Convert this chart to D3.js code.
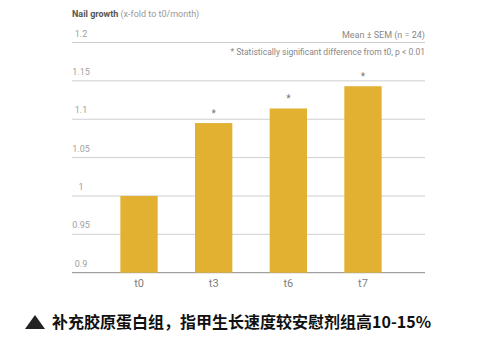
<!DOCTYPE html>
<html>
<head>
<meta charset="utf-8">
<script src="https://cdn.jsdelivr.net/npm/d3@7"></script>
<style>
  body { margin: 0; background: #fff; }
  svg { display: block; }
</style>
</head>
<body>
<div id="chart"></div>
<script>
const categories = ["t0", "t3", "t6", "t7"];
const values = [1.0, 1.095, 1.114, 1.143];
const significant = [false, true, true, true];
const yTicks = [0.9, 0.95, 1, 1.05, 1.1, 1.15, 1.2];

const W = 500, H = 353;
const left = 72, right = 425;

const svg = d3.select("#chart").append("svg")
    .attr("width", W)
    .attr("height", H);

const y = d3.scaleLinear()
    .domain([0.9, 1.2])
    .range([272.7, 42.5]);

const x = d3.scaleBand()
    .domain(categories)
    .range([101.7, 400.3])
    .paddingInner(0.5)
    .paddingOuter(0.25);

const font = "Roboto, 'Open Sans', sans-serif";

// gridlines
svg.append("g")
    .selectAll("line")
    .data(yTicks)
    .enter()
    .append("line")
    .attr("x1", left)
    .attr("x2", right)
    .attr("y1", d => y(d))
    .attr("y2", d => y(d))
    .attr("stroke", d => d === 0.9 ? "#8a8a8a" : "#cfcfcf")
    .attr("stroke-width", 1);

// tick labels
svg.append("g")
    .selectAll("text")
    .data(yTicks)
    .enter()
    .append("text")
    .attr("x", 81)
    .attr("y", d => y(d) - 6)
    .attr("text-anchor", "middle")
    .attr("font-family", font)
    .attr("font-size", "9px")
    .attr("fill", "#a0a0a0")
    .text(d => d3.format("")(d));

// bars
svg.selectAll(".bar")
    .data(categories)
    .enter()
    .append("rect")
    .attr("class", "bar")
    .attr("x", d => x(d))
    .attr("width", x.bandwidth())
    .attr("y", (d, i) => y(values[i]))
    .attr("height", (d, i) => y(0.9) - y(values[i]))
    .attr("fill", "#e2b131");

// asterisks
svg.selectAll(".star")
    .data(categories.filter((d, i) => significant[i]))
    .enter()
    .append("text")
    .attr("class", "star")
    .attr("x", d => x(d) + x.bandwidth() / 2)
    .attr("y", d => y(values[categories.indexOf(d)]) - 6)
    .attr("text-anchor", "middle")
    .attr("font-family", font)
    .attr("font-size", "10px")
    .attr("fill", "#777")
    .text("*");

// x labels
svg.append("g")
    .selectAll("text")
    .data(categories)
    .enter()
    .append("text")
    .attr("x", d => x(d) + x.bandwidth() / 2)
    .attr("y", 287)
    .attr("text-anchor", "middle")
    .attr("font-family", font)
    .attr("font-size", "11px")
    .attr("fill", "#808080")
    .text(d => d);

// titles
const title = svg.append("text")
    .attr("x", left)
    .attr("y", 17)
    .attr("font-family", font)
    .attr("font-size", "9px");
title.append("tspan").attr("font-weight", "bold").attr("fill", "#555").text("Nail growth ");
title.append("tspan").attr("fill", "#999").text("(x-fold to t0/month)");

svg.append("text")
    .attr("x", right)
    .attr("y", 38)
    .attr("text-anchor", "end")
    .attr("font-family", font)
    .attr("font-size", "9px")
    .attr("fill", "#888")
    .text("Mean ± SEM (n = 24)");

svg.append("text")
    .attr("x", right)
    .attr("y", 55)
    .attr("text-anchor", "end")
    .attr("font-family", font)
    .attr("font-size", "8.5px")
    .attr("fill", "#888")
    .text("* Statistically significant difference from t0, p < 0.01");

// caption
svg.append("path")
    .attr("d", "M25,329 L35,315 L45,329 Z")
    .attr("fill", "#222");

svg.append("text")
    .attr("x", 52)
    .attr("y", 328)
    .attr("font-family", "'Noto Sans CJK SC', sans-serif")
    .attr("font-size", "16px")
    .attr("font-weight", "bold")
    .attr("fill", "#111")
    .text("补充胶原蛋白组，指甲生长速度较安慰剂组高10-15%");
</script>
</body>
</html>
